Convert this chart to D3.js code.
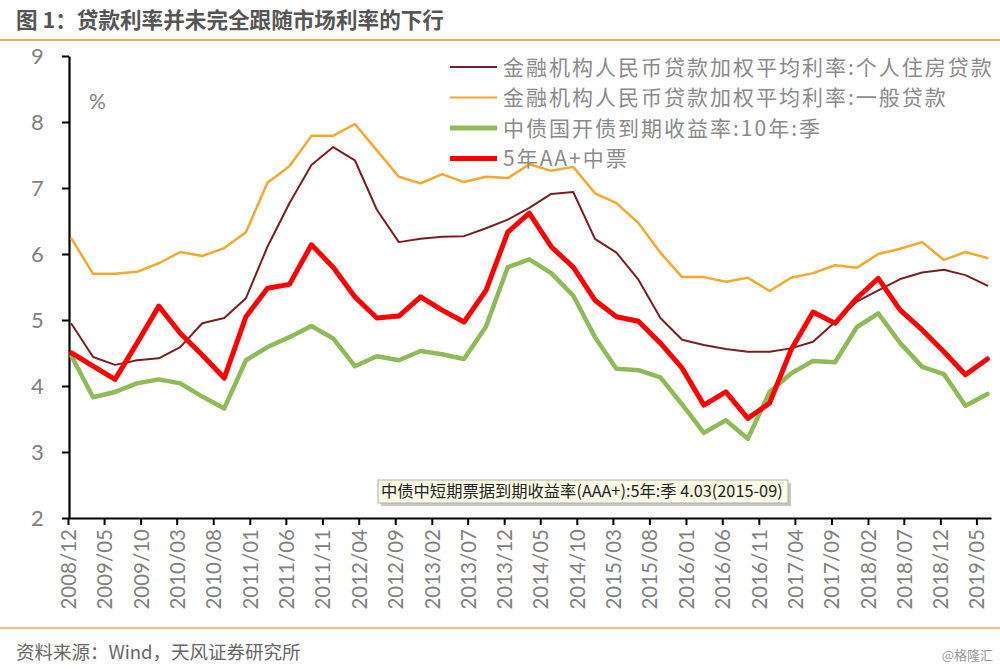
<!DOCTYPE html>
<html><head><meta charset="utf-8">
<script src="https://cdn.jsdelivr.net/npm/d3@7"></script>
<style>
html,body{margin:0;padding:0;background:#fff;}
svg{display:block;}
</style></head>
<body>
<svg id="chart" width="1000" height="669"></svg>
<script>
// ---- data ----
const quarters = ["2008/12","2009/03","2009/06","2009/09","2009/12","2010/03","2010/06","2010/09","2010/12",
"2011/03","2011/06","2011/09","2011/12","2012/03","2012/06","2012/09","2012/12","2013/03","2013/06","2013/09","2013/12",
"2014/03","2014/06","2014/09","2014/12","2015/03","2015/06","2015/09","2015/12","2016/03","2016/06","2016/09","2016/12",
"2017/03","2017/06","2017/09","2017/12","2018/03","2018/06","2018/09","2018/12","2019/03","2019/06"];
const housingLoan = [4.94,4.44,4.32,4.39,4.42,4.59,4.95,5.03,5.33,6.11,6.77,7.35,7.62,7.42,6.67,6.18,6.23,6.26,6.27,6.39,6.52,
6.70,6.91,6.94,6.23,6.02,5.61,5.03,4.70,4.62,4.56,4.52,4.52,4.57,4.67,4.97,5.28,5.45,5.62,5.72,5.76,5.68,5.52];
const generalLoan = [6.23,5.70,5.70,5.73,5.86,6.03,5.97,6.09,6.33,7.08,7.33,7.79,7.79,7.97,7.57,7.17,7.07,7.21,7.09,7.17,7.15,
7.36,7.26,7.32,6.92,6.77,6.47,6.02,5.65,5.65,5.58,5.64,5.44,5.64,5.71,5.83,5.79,6.00,6.08,6.18,5.91,6.03,5.94];
const cdb10y = [4.45,3.83,3.91,4.04,4.10,4.04,3.84,3.66,4.39,4.59,4.74,4.91,4.72,4.30,4.45,4.39,4.53,4.48,4.41,4.90,5.80,
5.92,5.71,5.37,4.74,4.26,4.24,4.13,3.72,3.29,3.48,3.20,3.91,4.19,4.38,4.36,4.89,5.10,4.65,4.29,4.18,3.70,3.88];
const mtnAAplus5y = [4.50,4.30,4.10,4.65,5.21,4.80,4.47,4.12,5.05,5.48,5.54,6.14,5.80,5.35,5.03,5.06,5.35,5.15,4.97,5.45,6.33,
6.62,6.11,5.80,5.30,5.05,4.98,4.65,4.27,3.71,3.91,3.51,3.74,4.55,5.12,4.95,5.33,5.63,5.15,4.85,4.52,4.17,4.41];
const seriesNames = ["金融机构人民币贷款加权平均利率:个人住房贷款","金融机构人民币贷款加权平均利率:一般贷款","中债国开债到期收益率:10年:季","5年AA+中票"];
const tickLabels = ["2008/12","2009/05","2009/10","2010/03","2010/08","2011/01","2011/06","2011/11","2012/04","2012/09",
"2013/02","2013/07","2013/12","2014/05","2014/10","2015/03","2015/08","2016/01","2016/06","2016/11","2017/04","2017/09",
"2018/02","2018/07","2018/12","2019/05"];
const yTicks = [2,3,4,5,6,7,8,9];
const titleText = "图 1：贷款利率并未完全跟随市场利率的下行";
const sourceText = "资料来源：Wind，天风证券研究所";
const tooltipText = "中债中短期票据到期收益率(AAA+):5年:季 4.03(2015-09)";

// ---- setup ----
const svg = d3.select("#chart");
const parseMonth = d3.timeParse("%Y/%m");
const midMonth = s => { const d = parseMonth(s); return new Date(d.getFullYear(), d.getMonth(), 16); };

const x = d3.scaleTime()
  .domain([parseMonth("2008/12"), parseMonth("2019/07")])
  .range([68, 991]);
const y = d3.scaleLinear().domain([2, 9]).range([518, 56]);

const colors = ["#7a1f1f", "#f5a72e", "#8fba58", "#ff0000"];
const widths = [2, 2.5, 4.5, 5];
const allSeries = [housingLoan, generalLoan, cdb10y, mtnAAplus5y];

// header / footer
svg.append("text").attr("x", 16).attr("y", 28).text(titleText)
  .attr("font-family", "Noto Sans CJK SC").attr("font-weight", "bold")
  .attr("font-size", 21.6).attr("fill", "#555");
svg.append("line").attr("x1", 0).attr("x2", 1000).attr("y1", 40).attr("y2", 40)
  .attr("stroke", "#eea865").attr("stroke-width", 2);
svg.append("line").attr("x1", 0).attr("x2", 1000).attr("y1", 628).attr("y2", 628)
  .attr("stroke", "#e8a872").attr("stroke-width", 1.5);
svg.append("text").attr("x", 16).attr("y", 659).text(sourceText)
  .attr("font-family", "Noto Sans CJK SC").attr("font-size", 18.5).attr("fill", "#666");
svg.append("text").attr("x", 993).attr("y", 660).attr("text-anchor", "end").text("@格隆汇")
  .attr("font-family", "Noto Sans CJK SC").attr("font-size", 13).attr("fill", "#999");

// axes
const yAxis = svg.append("g").attr("transform", "translate(69,0)")
  .call(d3.axisLeft(y).tickValues(yTicks).tickFormat(d3.format("d")).tickSize(7).tickSizeOuter(0));
yAxis.select(".domain").attr("stroke", "#000").attr("stroke-width", 2.2);
yAxis.selectAll(".tick line").attr("stroke", "#000").attr("stroke-width", 2);
yAxis.selectAll(".tick text").attr("font-family", "Lato, Liberation Sans").attr("font-size", 22)
  .attr("fill", "#808080").attr("x", -24).attr("text-anchor", "start").attr("dx", -14);

const xAxis = svg.append("g").attr("transform", "translate(0,518)")
  .call(d3.axisBottom(x).tickValues(tickLabels.map(parseMonth)).tickFormat(d3.timeFormat("%Y/%m")).tickSize(7).tickSizeOuter(0));
xAxis.select(".domain").attr("stroke", "#000").attr("stroke-width", 2.2);
xAxis.selectAll(".tick line").attr("stroke", "#000").attr("stroke-width", 2);
xAxis.selectAll(".tick text").attr("font-family", "Lato, Liberation Sans").attr("font-size", 20.5)
  .attr("fill", "#808080").attr("transform", "rotate(-90)").attr("text-anchor", "end")
  .attr("x", -11).attr("y", 0).attr("dy", "0.36em");

svg.append("text").attr("x", 89).attr("y", 109).text("%")
  .attr("font-family", "Lato, Liberation Sans").attr("font-size", 21).attr("fill", "#808080");

// lines
const line = d3.line().x((d, i) => x(midMonth(quarters[i]))).y(d => y(d));
allSeries.forEach((s, k) => {
  svg.append("path").datum(s).attr("d", line).attr("fill", "none")
    .attr("stroke", colors[k]).attr("stroke-width", widths[k])
    .attr("stroke-linejoin", "round").attr("stroke-linecap", "round");
});

// legend
const leg = svg.append("g");
seriesNames.forEach((n, k) => {
  const cy = 67 + k * 30.5;
  leg.append("line").attr("x1", 450).attr("x2", 497).attr("y1", cy).attr("y2", cy)
    .attr("stroke", colors[k]).attr("stroke-width", k < 2 ? 2 : 5);
  leg.append("text").attr("x", 503).attr("y", cy + 7.5).text(n)
    .attr("font-family", "Noto Sans CJK SC").attr("font-size", 21).attr("letter-spacing", 2)
    .attr("fill", "#8a8a8a");
});

// tooltip box
const tip = svg.append("g");
tip.append("rect").attr("x", 381).attr("y", 483).attr("width", 410).attr("height", 23).attr("fill", "#c8c8c8");
tip.append("rect").attr("x", 378).attr("y", 480).attr("width", 410).attr("height", 23)
  .attr("fill", "#fbfbe6").attr("stroke", "#b0b0a0").attr("stroke-width", 1);
tip.append("text").attr("x", 381).attr("y", 497).text(tooltipText)
  .attr("font-family", "Noto Sans CJK SC").attr("font-size", 16.3).attr("fill", "#222");
</script>
</body></html>
